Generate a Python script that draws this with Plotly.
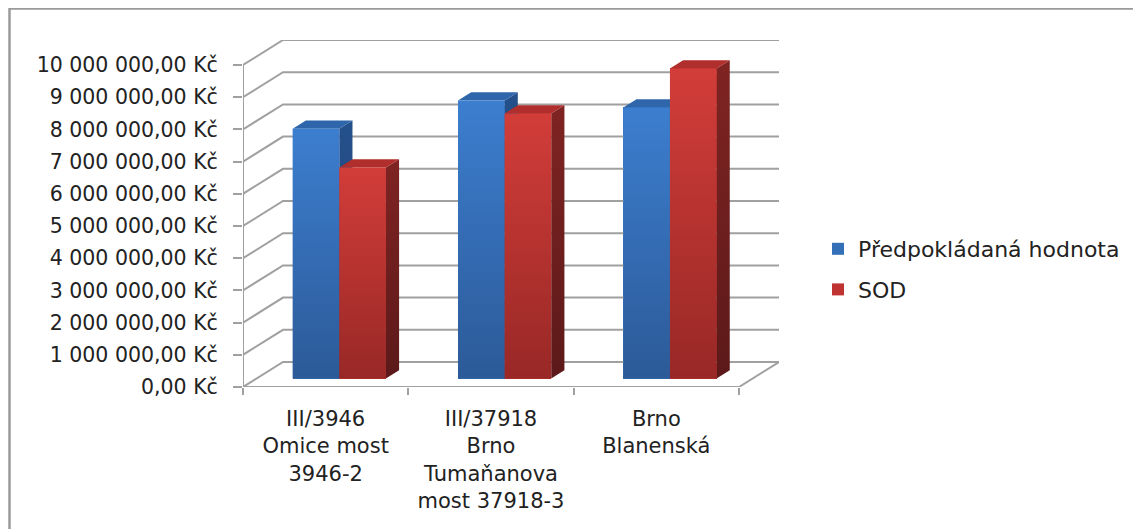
import plotly.graph_objects as go

# ---------------- data ----------------
categories = [
    "III/3946<br>Omice most<br>3946-2",
    "III/37918<br>Brno<br>Tumaňanova<br>most 37918-3",
    "Brno<br>Blanenská",
]
series_names = ["Předpokládaná hodnota", "SOD"]
predpokladana = [7760000, 8630000, 8420000]
sod = [6550000, 8230000, 9630000]
tick_values = [0, 1000000, 2000000, 3000000, 4000000, 5000000,
               6000000, 7000000, 8000000, 9000000, 10000000]
tick_labels = ["0,00 Kč", "1 000 000,00 Kč", "2 000 000,00 Kč", "3 000 000,00 Kč",
               "4 000 000,00 Kč", "5 000 000,00 Kč", "6 000 000,00 Kč",
               "7 000 000,00 Kč", "8 000 000,00 Kč", "9 000 000,00 Kč",
               "10 000 000,00 Kč"]

# ---------------- geometry / style ----------------
OFF = 8                                      # page body margin
W, H = 1141 - OFF, 529 - OFF
PL, PR, PT, PB = 243 - OFF, 779 - OFF, 40 - OFF, 387 - OFF   # plot area (figure px)
n = len(categories)
front_px = 496                               # width of front plane (3 categories)
DX = n * 40 / front_px                       # depth offset in x units
YMAX = tick_values[-1]
DY = 25 / 322 * YMAX                         # depth offset in y units
GAP, BW = 0.218, 0.282                       # gap / bar width in category units
D0, D1 = 0.34, 0.67                          # bar depth span (fraction)
DD = D1 - D0

series = [predpokladana, sod]
front_grad = [["#2c5a98", "#3c7ecf"], ["#982826", "#d23d39"]]
top_col = ["#2f66ab", "#b02e2b"]
side_grad = [["#1e4377", "#24508b"], ["#5c1919", "#7f2423"]]
bar_col = ["#3470b8", "#bf3431"]
grid_col = "#a0a0a0"
font_fam = "DejaVu Sans"
txt_col = "#222222"

fig = go.Figure()

# front bars (real bar marks, also provide the legend)
for s, vals in enumerate(series):
    xs = [i + GAP + s * BW + BW / 2 + D0 * DX for i in range(n)]
    fig.add_trace(go.Bar(
        x=xs, y=vals, base=[D0 * DY] * n, width=BW,
        marker=dict(color=bar_col[s], line=dict(width=0)),
        name=series_names[s], legendgroup=series_names[s],
        hoverinfo="skip"))

# gridlines / 3D frame
gx, gy = [], []
for v in tick_values:
    gx += [0, DX, n + DX, None]
    gy += [v, v + DY, v + DY, None]
gx += [0, n, n + DX, None, 0, 0]
gy += [0, 0, DY, None, 0, YMAX]
fig.add_trace(go.Scatter(x=gx, y=gy, mode="lines",
                         line=dict(color=grid_col, width=2),
                         showlegend=False, hoverinfo="skip"))

# 3D faces
for i in range(n):
    for s, vals in enumerate(series):
        v = vals[i]
        x0 = i + GAP + s * BW + D0 * DX
        x1 = x0 + BW
        yb = D0 * DY
        yt = yb + v
        ddx, ddy = DD * DX, DD * DY
        # side face
        fig.add_trace(go.Scatter(
            x=[x1, x1 + ddx, x1 + ddx, x1, x1],
            y=[yb, yb + ddy, yt + ddy, yt, yb],
            mode="lines", line=dict(width=0), fill="toself",
            fillgradient=dict(type="vertical",
                              colorscale=[[0, side_grad[s][0]], [1, side_grad[s][1]]]),
            showlegend=False, hoverinfo="skip"))
        # top face
        fig.add_trace(go.Scatter(
            x=[x0, x1, x1 + ddx, x0 + ddx, x0],
            y=[yt, yt, yt + ddy, yt + ddy, yt],
            mode="lines", line=dict(width=0), fill="toself",
            fillcolor=top_col[s], showlegend=False, hoverinfo="skip"))
        # front face
        fig.add_trace(go.Scatter(
            x=[x0, x1, x1, x0, x0],
            y=[yb, yb, yt, yt, yb],
            mode="lines", line=dict(width=0), fill="toself",
            fillgradient=dict(type="vertical",
                              colorscale=[[0, front_grad[s][0]], [1, front_grad[s][1]]]),
            showlegend=False, hoverinfo="skip"))

plot_w = PR - PL
plot_h = PB - PT

fig.update_layout(
    width=W, height=H, autosize=False,
    margin=dict(l=PL, r=W - PR, t=PT, b=H - PB, pad=0),
    paper_bgcolor="white", plot_bgcolor="rgba(0,0,0,0)",
    barmode="overlay", bargap=0,
    font=dict(family=font_fam, color=txt_col, size=20),
    showlegend=True,
    legend=dict(x=(818 - OFF - PL) / plot_w, xanchor="left",
                y=(PB - (228 - OFF)) / plot_h, yanchor="top",
                font=dict(size=22, family=font_fam, color=txt_col),
                tracegroupgap=9, bgcolor="rgba(0,0,0,0)"),
    xaxis=dict(range=[0, n + DX], showgrid=False, zeroline=False, showline=False,
               tickmode="array", tickvals=[i + 0.5 for i in range(n)],
               ticktext=categories, ticks="", ticklabelstandoff=17,
               tickfont=dict(size=21, family=font_fam, color=txt_col),
               minor=dict(tickmode="array", tickvals=list(range(n + 1)),
                          ticks="outside", ticklen=7, tickwidth=2, tickcolor=grid_col,
                          showgrid=False),
               fixedrange=True),
    yaxis=dict(range=[0, YMAX + DY], showgrid=False, zeroline=False, showline=False,
               tickmode="array", tickvals=tick_values, ticktext=tick_labels,
               ticks="outside", ticklen=9, tickwidth=2, tickcolor=grid_col,
               ticklabelstandoff=11,
               tickfont=dict(size=20.5, family=font_fam, color=txt_col),
               fixedrange=True),
    shapes=[dict(type="rect", xref="paper", yref="paper",
                 x0=(1.5 - PL) / plot_w, x1=(1131.5 - PL) / plot_w,
                 y0=(PB - 545) / plot_h, y1=(PB - 0.5) / plot_h,
                 line=dict(color="#9a9a9a", width=2.5), fillcolor="rgba(0,0,0,0)",
                 layer="below")],
)

fig.write_html("out.html")
